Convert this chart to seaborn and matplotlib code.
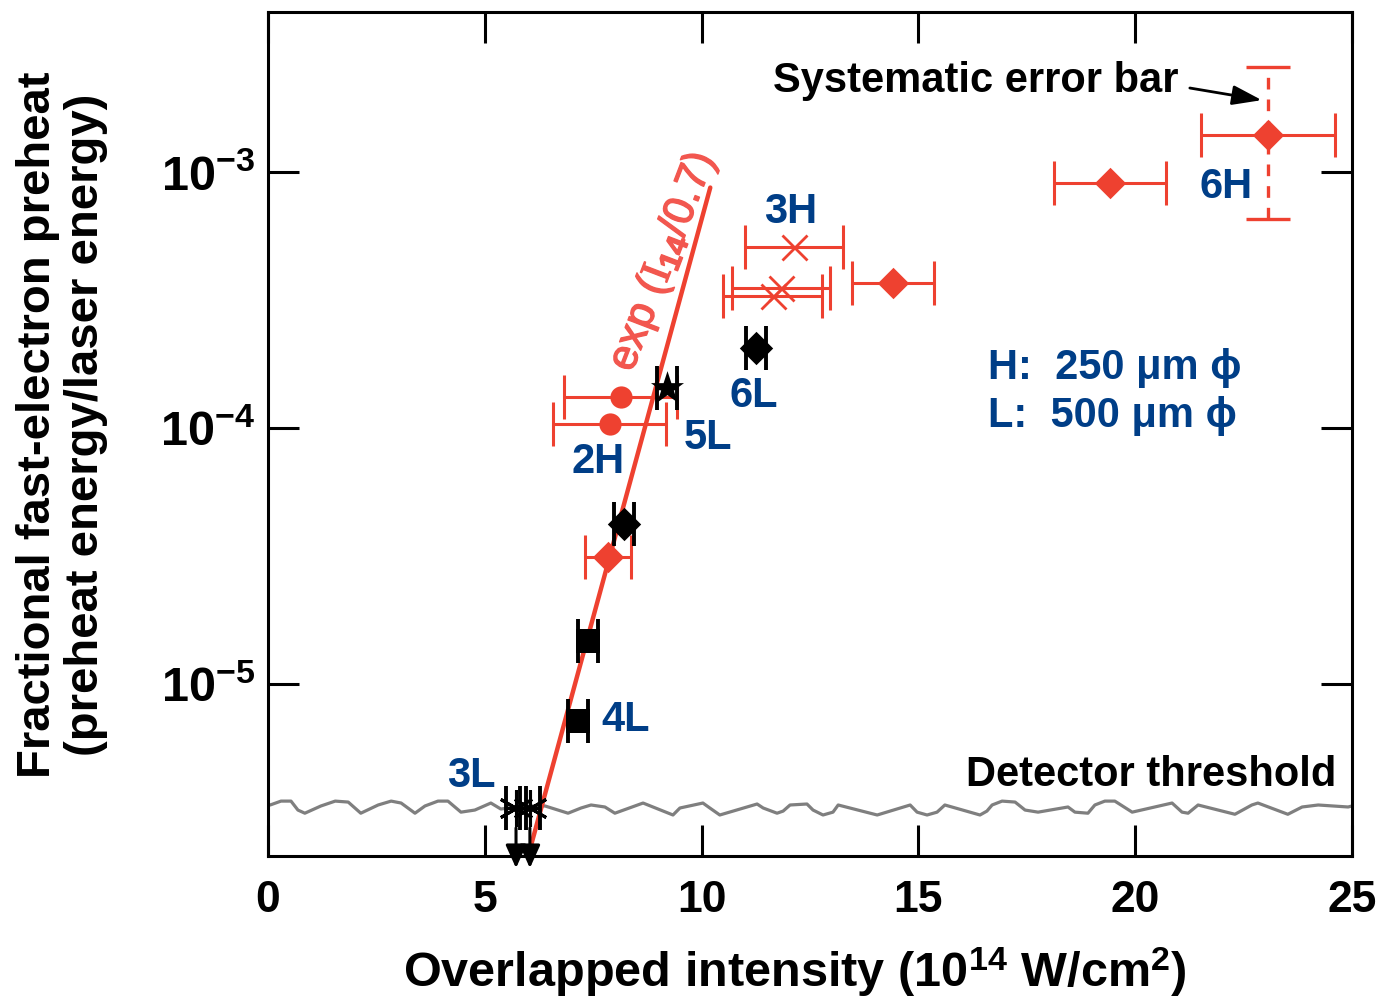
import numpy as np
import pandas as pd
import matplotlib
matplotlib.use("Agg")
import matplotlib.pyplot as plt
import matplotlib.patheffects as pe
from matplotlib.ticker import FixedLocator, NullLocator
import seaborn as sns

# ---- data ----
# black points (L targets)
sq_x = [7.15, 7.38]
sq_y = [7.2e-6, 1.47e-5]
bdia_x = [8.21, 11.25]
bdia_y = [4.22e-5, 2.05e-4]
star_x = [9.20]
star_y = [1.43e-4]
ast_x = [5.72, 6.04]          # 3L, below detector threshold
ast_y = [3.28e-6, 3.28e-6]
black_xerr = 0.23

# red points (H targets)
rdia_x = [7.84, 14.41, 19.42, 23.06]
rdia_y = [3.13e-5, 3.68e-4, 9.06e-4, 1.40e-3]
rdia_xerr = [0.54, 0.95, 1.30, 1.55]
circ_x = [8.13, 7.88]
circ_y = [1.32e-4, 1.04e-4]
circ_xerr = [1.30, 1.31]
rx_x = [12.13, 11.64, 11.83]
rx_y = [5.1e-4, 3.28e-4, 3.52e-4]
rx_xerr = [1.13, 1.14, 1.13]

# systematic error bar on 6H
sys_y_lo = 6.55e-4
sys_y_hi = 2.57e-3

# exp(I14/0.7) fit line end points
fit_x = [6.0, 10.2]
fit_y = [2.13e-6, 8.7e-4]

# detector threshold trace (x, y in 1e-6)
thr_x = [0.05, 0.30, 0.53, 0.69, 0.85, 1.22, 1.55, 1.85, 2.14, 2.54, 2.84, 3.07,
         3.39, 3.62, 3.92, 4.15, 4.45, 4.77, 5.14, 5.37, 5.88, 6.39, 6.92, 7.22,
         7.45, 7.77, 8.00, 8.65, 9.34, 9.50, 10.03, 10.19, 10.42, 11.28, 11.42,
         11.74, 11.88, 12.04, 12.43, 12.57, 12.80, 13.03, 13.15, 14.05, 14.81,
         14.97, 15.20, 15.43, 15.61, 16.42, 16.58, 16.70, 16.93, 17.23, 17.46,
         17.76, 18.45, 18.61, 18.91, 19.07, 19.30, 19.53, 19.93, 20.85, 21.08,
         21.22, 21.45, 22.30, 22.69, 22.83, 23.52, 23.85, 24.22, 24.91, 25.0]
thr_y = [3.37, 3.49, 3.49, 3.22, 3.13, 3.34, 3.49, 3.46, 3.13, 3.37, 3.49, 3.43,
         3.13, 3.34, 3.49, 3.49, 3.16, 3.22, 3.43, 3.25, 3.34, 3.34, 3.13, 3.28,
         3.37, 3.31, 3.13, 3.43, 3.08, 3.28, 3.43, 3.28, 3.08, 3.40, 3.28,
         3.13, 3.19, 3.37, 3.40, 3.22, 3.08, 3.16, 3.37, 3.08, 3.37,
         3.16, 3.08, 3.16, 3.37, 3.08, 3.19, 3.37, 3.49, 3.46, 3.22,
         3.16, 3.31, 3.16, 3.13, 3.37, 3.49, 3.49, 3.16, 3.43, 3.16,
         3.13, 3.37, 3.10, 3.37, 3.43, 3.10, 3.31, 3.37, 3.31, 3.34]

x_ticks = [0, 5, 10, 15, 20, 25]
y_ticks = [1e-5, 1e-4, 1e-3]
y_tick_labels = [r"$\mathbf{10^{-5}}$", r"$\mathbf{10^{-4}}$", r"$\mathbf{10^{-3}}$"]

RED = "#ee4130"
BLUE = "#003e87"
GRAY = "#7f7f7f"

sns.set_theme(style="ticks")
plt.rcParams["font.family"] = ["Liberation Sans", "DejaVu Sans"]
plt.rcParams["mathtext.fontset"] = "custom"
plt.rcParams["mathtext.rm"] = "Liberation Sans:bold"
plt.rcParams["mathtext.bf"] = "Liberation Sans:bold"
plt.rcParams["mathtext.it"] = "Liberation Serif"
plt.rcParams["text.color"] = "black"

fig = plt.figure(figsize=(13.86, 10), dpi=100)
ax = fig.add_axes([268 / 1386, 144 / 1000, (1352 - 268) / 1386, (856 - 12) / 1000])
ax.set_yscale("log")
ax.set_xlim(0, 25)
ax.set_ylim(2.13e-6, 4.22e-3)

# detector threshold trace
thr = pd.DataFrame({"x": thr_x, "y": np.array(thr_y) * 1e-6})
sns.lineplot(data=thr, x="x", y="y", color=GRAY, lw=2.3, sort=False,
             estimator=None, ax=ax, zorder=1)

# fit line
fit = pd.DataFrame({"x": fit_x, "y": fit_y})
sns.lineplot(data=fit, x="x", y="y", color=RED, lw=3.2, estimator=None,
             ax=ax, zorder=2)

# red error bars
ekw = dict(fmt="none", ecolor=RED, elinewidth=2.2, capsize=16, capthick=2.2, zorder=3)
ax.errorbar(rdia_x, rdia_y, xerr=rdia_xerr, **ekw)
ax.errorbar(circ_x, circ_y, xerr=circ_xerr, **ekw)
ax.errorbar(rx_x, rx_y, xerr=rx_xerr, **ekw)
eb = ax.errorbar([rdia_x[-1]], [rdia_y[-1]],
                 yerr=[[rdia_y[-1] - sys_y_lo], [sys_y_hi - rdia_y[-1]]],
                 fmt="none", ecolor=RED, elinewidth=2.4, capsize=16, capthick=2.4, zorder=3)
eb[2][0].set_linestyle((0, (3.5, 3)))

# black error bars
bkw = dict(fmt="none", ecolor="black", elinewidth=2.5, capsize=16, capthick=2.8, zorder=3)
ax.errorbar(sq_x, sq_y, xerr=black_xerr, **bkw)
ax.errorbar(bdia_x, bdia_y, xerr=black_xerr, **bkw)
ax.errorbar(star_x, star_y, xerr=black_xerr, **bkw)
ax.errorbar(ast_x, ast_y, xerr=black_xerr, **bkw)

# markers
sns.scatterplot(x=rdia_x, y=rdia_y, marker="D", s=16 ** 2, color=RED, linewidth=0, ax=ax, zorder=4)
sns.scatterplot(x=circ_x, y=circ_y, marker="o", s=16 ** 2, color=RED, linewidth=0, ax=ax, zorder=4)
ax.plot(rx_x, rx_y, ls="none", marker="x", ms=18, mew=2, color=RED, zorder=4)
sns.scatterplot(x=sq_x, y=sq_y, marker="s", s=17 ** 2, color="black", linewidth=0, ax=ax, zorder=4)
sns.scatterplot(x=bdia_x, y=bdia_y, marker="D", s=17 ** 2, color="black", linewidth=0, ax=ax, zorder=4)
sns.scatterplot(x=star_x, y=star_y, marker="*", s=25 ** 2, color="black", linewidth=0, ax=ax, zorder=4)
ax.plot(ast_x, ast_y, ls="none", marker=(6, 2, 0), ms=26, mew=2.2, color="black", zorder=4)

# upper-limit arrows for 3L
for xv in ast_x:
    ax.annotate("", xy=(xv, 1.91e-6), xytext=(xv, 2.74e-6), annotation_clip=False,
                arrowprops=dict(arrowstyle="-|>,head_length=1.0,head_width=0.45",
                                mutation_scale=14, lw=2.2, color="black",
                                shrinkA=0, shrinkB=0), zorder=4)

# labels
lab = dict(color=BLUE, fontsize=30, fontweight="bold", va="center")
ax.text(4.70, 4.38e-6, "3L", ha="center", **lab)
ax.text(7.70, 7.23e-6, "4L", ha="left", **lab)
ax.text(9.59, 9.14e-5, "5L", ha="left", **lab)
ax.text(7.61, 7.36e-5, "2H", ha="center", **lab)
ax.text(11.21, 1.33e-4, "6L", ha="center", **lab)
ax.text(12.06, 6.98e-4, "3H", ha="center", **lab)
ax.text(22.09, 8.74e-4, "6H", ha="center", **lab)
ax.text(16.6, 1.71e-4, "H:  250 μm ϕ", ha="left", **lab)
ax.text(16.6, 1.11e-4, "L:  500 μm ϕ", ha="left", **lab)

ax.text(11.65, 2.27e-3, "Systematic error bar", ha="left", va="center",
        fontsize=30, fontweight="bold", color="black")
ax.annotate("", xy=(22.92, 1.91e-3), xytext=(21.26, 2.13e-3),
            arrowprops=dict(arrowstyle="-|>,head_length=0.9,head_width=0.3",
                            mutation_scale=20, lw=2, color="black",
                            shrinkA=0, shrinkB=0))
ax.text(24.63, 4.41e-6, "Detector threshold", ha="right", va="center",
        fontsize=30, fontweight="bold", color="black")
ax.text(9.11, 4.45e-4, r"exp ($I_{14}$/0.7)", rotation=69, rotation_mode="anchor",
        ha="center", va="center", fontsize=31, color="#f2574f",
        path_effects=[pe.withStroke(linewidth=1.0, foreground="#f2574f")])

# axes styling
ax.set_xlabel("")
ax.set_ylabel("")
ax.xaxis.set_major_locator(FixedLocator(x_ticks))
ax.set_xticklabels([str(v) for v in x_ticks])
ax.yaxis.set_major_locator(FixedLocator(y_ticks))
ax.yaxis.set_minor_locator(NullLocator())
ax.set_yticklabels(y_tick_labels)
ax.tick_params(axis="both", which="major", direction="in", length=22, width=2.2,
               top=True, right=True, colors="black")
ax.tick_params(axis="x", pad=17, labelsize=32)
ax.tick_params(axis="y", pad=9, labelsize=35)
for lbl in ax.get_xticklabels():
    lbl.set_fontweight("bold")
for s in ax.spines.values():
    s.set_linewidth(2.2)
    s.set_color("black")

fig.text(795 / 1386, 1 - 972 / 1000,
         r"Overlapped intensity (10$^{14}$ W/cm$^{2}$)",
         ha="center", va="center", fontsize=35, fontweight="bold", color="black")
fig.text(38 / 1386, 1 - 425 / 1000, "Fractional fast-electron preheat",
         rotation=90, ha="center", va="center", fontsize=34, fontweight="bold", color="black")
fig.text(86 / 1386, 1 - 425 / 1000, "(preheat energy/laser energy)",
         rotation=90, ha="center", va="center", fontsize=34, fontweight="bold", color="black")

fig.savefig("out.png", dpi=100)
